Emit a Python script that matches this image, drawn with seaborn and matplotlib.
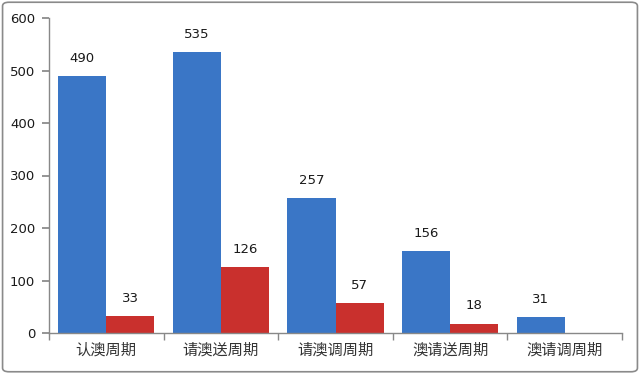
import matplotlib
matplotlib.use("Agg")
import matplotlib.pyplot as plt
import seaborn as sns
import pandas as pd
import numpy as np
from matplotlib.patches import FancyBboxPatch

categories = ["认澳周期", "请澳送周期", "请澳调周期", "澳请送周期", "澳请调周期"]
series_names = ["A", "B"]
blue_values = [490, 535, 257, 156, 31]
red_values = [33, 126, 57, 18, np.nan]
y_ticks = [0, 100, 200, 300, 400, 500, 600]

sns.set_theme(style="white")
plt.rcParams['font.family'] = ['Noto Sans CJK SC', 'DejaVu Sans']

df = pd.DataFrame({
    "category": categories * 2,
    "series": [series_names[0]] * 5 + [series_names[1]] * 5,
    "value": blue_values + red_values,
})

fig = plt.figure(figsize=(6.4, 3.74), dpi=100)
ax = fig.add_axes([49/640, 1-333/374, (622-49)/640, (333-18)/374])

sns.barplot(data=df, x="category", y="value", hue="series", order=categories,
            hue_order=series_names, palette=["#3a76c6", "#c9302d"], width=0.84,
            saturation=1, ax=ax, legend=False, errorbar=None, linewidth=0)

for cont in ax.containers:
    labels = []
    for v in cont.datavalues:
        labels.append("" if np.isnan(v) else f"{int(v)}")
    ax.bar_label(cont, labels=labels, padding=8, fontsize=9.5, color="#1a1a1a",
                 family=["DejaVu Sans"])

ax.set_ylim(0, 600)
ax.set_xlim(-0.5, len(categories) - 0.5)
ax.set_yticks(y_ticks)
ax.set_yticklabels([str(t) for t in y_ticks], fontsize=9.5, color="#1a1a1a",
                   family=["DejaVu Sans"])
ax.set_xticks(range(len(categories)))
ax.set_xticklabels(categories, fontsize=11, color="#333333")
ax.tick_params(axis="x", which="major", length=0, pad=6)
ax.set_xticks(np.arange(-0.5, len(categories), 1.0), minor=True)
ax.tick_params(axis="x", which="minor", length=5, color="#888888", direction="out", bottom=True)
ax.tick_params(axis="y", length=5, color="#888888", direction="out", left=True, pad=5)
ax.set_xlabel("")
ax.set_ylabel("")
for s in ["top", "right"]:
    ax.spines[s].set_visible(False)
for s in ["left", "bottom"]:
    ax.spines[s].set_color("#888888")
    ax.spines[s].set_linewidth(1)

border = FancyBboxPatch((0.004, 0.006), 0.992, 0.988, boxstyle="round,pad=0,rounding_size=0.01",
                        transform=fig.transFigure, fill=False, edgecolor="#8a8a8a", linewidth=1.2)
fig.patches.append(border)

fig.savefig("out.png", dpi=100)
